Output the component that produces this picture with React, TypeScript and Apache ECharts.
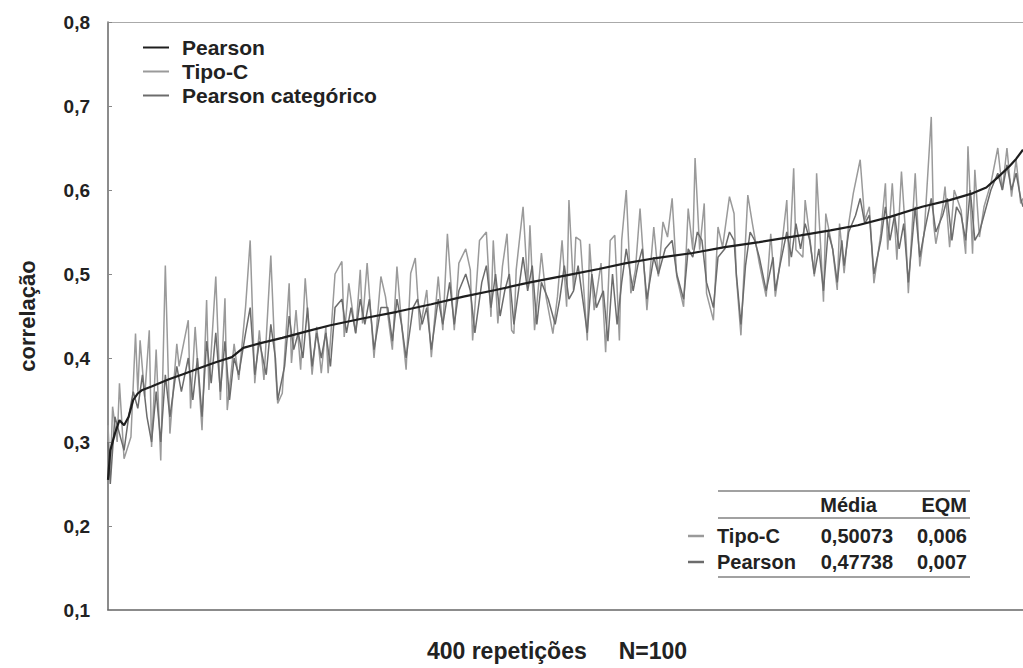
import React, { useEffect, useRef } from "react";
import * as echarts from "echarts";

const seriesNames = ["Pearson", "Tipo-C", "Pearson categórico"];
const yTicks = [0.1, 0.2, 0.3, 0.4, 0.5, 0.6, 0.7, 0.8];

const pearsonIdx = [1, 2, 4, 6, 8, 10, 12, 14, 16, 20, 27, 34, 41, 48, 55, 60, 68, 77, 88, 98, 112, 127, 142, 156, 170, 185, 202, 215, 227, 240, 256, 270, 285, 303, 316, 328, 342, 356, 368, 378, 384, 389, 394, 397, 400];
const pearsonVal = [0.255, 0.29, 0.31, 0.326, 0.32, 0.33, 0.35, 0.358, 0.362, 0.366, 0.374, 0.381, 0.388, 0.395, 0.401, 0.412, 0.418, 0.424, 0.432, 0.439, 0.447, 0.455, 0.464, 0.473, 0.481, 0.49, 0.499, 0.506, 0.513, 0.519, 0.525, 0.532, 0.538, 0.546, 0.552, 0.558, 0.568, 0.58, 0.588, 0.596, 0.603, 0.615, 0.628, 0.637, 0.648];

const tipoIdx = [1, 2, 3, 5, 6, 8, 11, 13, 14, 15, 17, 19, 20, 22, 24, 26, 28, 31, 32, 36, 37, 39, 42, 44, 45, 48, 50, 52, 53, 56, 58, 61, 63, 65, 67, 69, 72, 74, 75, 77, 80, 81, 83, 85, 87, 90, 92, 94, 96, 97, 100, 103, 104, 106, 109, 111, 112, 114, 117, 120, 122, 125, 127, 129, 131, 133, 135, 137, 140, 142, 145, 147, 149, 152, 154, 157, 159, 160, 163, 166, 168, 169, 171, 173, 175, 177, 178, 179, 182, 184, 185, 187, 190, 192, 195, 197, 199, 201, 202, 204, 205, 207, 210, 211, 213, 216, 218, 220, 222, 224, 225, 227, 229, 231, 233, 236, 239, 241, 243, 245, 247, 249, 252, 254, 256, 257, 259, 261, 262, 265, 267, 269, 272, 274, 275, 277, 279, 280, 282, 285, 288, 290, 292, 294, 297, 298, 300, 301, 304, 305, 307, 309, 310, 312, 313, 314, 317, 319, 320, 322, 324, 326, 329, 331, 333, 335, 338, 340, 341, 343, 345, 347, 349, 350, 353, 355, 357, 360, 361, 362, 365, 366, 368, 370, 373, 375, 376, 378, 379, 381, 383, 386, 389, 391, 393, 395, 397, 399, 400];
const tipoVal = [0.32, 0.26, 0.342, 0.3, 0.37, 0.28, 0.306, 0.429, 0.36, 0.421, 0.354, 0.433, 0.294, 0.41, 0.278, 0.51, 0.31, 0.417, 0.39, 0.445, 0.34, 0.437, 0.314, 0.469, 0.362, 0.497, 0.35, 0.471, 0.338, 0.417, 0.374, 0.461, 0.54, 0.37, 0.433, 0.374, 0.522, 0.39, 0.346, 0.358, 0.489, 0.394, 0.457, 0.386, 0.495, 0.38, 0.437, 0.382, 0.437, 0.382, 0.5, 0.515, 0.425, 0.489, 0.429, 0.505, 0.441, 0.513, 0.4, 0.497, 0.473, 0.41, 0.509, 0.441, 0.386, 0.501, 0.519, 0.433, 0.481, 0.401, 0.497, 0.433, 0.548, 0.433, 0.513, 0.53, 0.505, 0.421, 0.54, 0.55, 0.449, 0.54, 0.441, 0.509, 0.548, 0.433, 0.429, 0.505, 0.58, 0.485, 0.558, 0.433, 0.525, 0.473, 0.429, 0.473, 0.54, 0.461, 0.588, 0.481, 0.544, 0.54, 0.421, 0.536, 0.457, 0.513, 0.407, 0.54, 0.546, 0.421, 0.54, 0.6, 0.477, 0.505, 0.578, 0.457, 0.556, 0.497, 0.562, 0.544, 0.59, 0.497, 0.461, 0.578, 0.529, 0.638, 0.529, 0.584, 0.477, 0.445, 0.556, 0.532, 0.592, 0.572, 0.497, 0.427, 0.54, 0.594, 0.56, 0.513, 0.473, 0.548, 0.473, 0.513, 0.588, 0.509, 0.626, 0.529, 0.52, 0.588, 0.544, 0.497, 0.62, 0.521, 0.467, 0.572, 0.529, 0.481, 0.56, 0.501, 0.56, 0.596, 0.636, 0.564, 0.58, 0.489, 0.548, 0.608, 0.529, 0.608, 0.517, 0.622, 0.54, 0.477, 0.62, 0.509, 0.552, 0.687, 0.56, 0.536, 0.58, 0.604, 0.532, 0.6, 0.576, 0.524, 0.652, 0.524, 0.624, 0.544, 0.58, 0.608, 0.65, 0.6, 0.65, 0.592, 0.636, 0.584, 0.59];

const catIdx = [1, 2, 4, 6, 8, 10, 12, 14, 16, 18, 20, 22, 24, 26, 28, 31, 33, 36, 38, 40, 42, 44, 46, 48, 50, 52, 54, 56, 58, 61, 63, 65, 67, 70, 72, 74, 75, 78, 80, 82, 84, 86, 88, 90, 92, 94, 96, 98, 100, 103, 105, 107, 109, 111, 113, 115, 117, 120, 123, 125, 127, 129, 131, 134, 136, 138, 140, 142, 145, 147, 150, 152, 154, 157, 159, 161, 164, 166, 168, 170, 172, 174, 176, 178, 180, 182, 184, 186, 188, 190, 193, 196, 198, 200, 202, 204, 206, 208, 210, 212, 214, 217, 219, 221, 223, 225, 227, 230, 232, 234, 236, 239, 241, 244, 247, 249, 252, 254, 256, 258, 260, 262, 265, 267, 270, 272, 274, 275, 277, 279, 281, 283, 285, 288, 291, 292, 294, 297, 299, 301, 303, 305, 307, 309, 311, 313, 315, 317, 319, 321, 322, 324, 327, 329, 331, 333, 335, 338, 340, 342, 344, 346, 348, 350, 353, 355, 357, 360, 362, 365, 367, 369, 371, 373, 375, 377, 379, 381, 384, 386, 389, 391, 393, 395, 397, 399, 400];
const catVal = [0.3, 0.25, 0.33, 0.31, 0.29, 0.33, 0.36, 0.34, 0.38, 0.33, 0.3, 0.36, 0.3, 0.38, 0.33, 0.39, 0.36, 0.4, 0.35, 0.4, 0.33, 0.42, 0.37, 0.43, 0.36, 0.42, 0.35, 0.4, 0.38, 0.43, 0.46, 0.38, 0.42, 0.38, 0.44, 0.4, 0.35, 0.39, 0.45, 0.41, 0.43, 0.4, 0.46, 0.39, 0.43, 0.4, 0.43, 0.39, 0.46, 0.47, 0.43, 0.46, 0.43, 0.47, 0.44, 0.47, 0.41, 0.46, 0.46, 0.42, 0.47, 0.44, 0.4, 0.46, 0.47, 0.44, 0.46, 0.41, 0.47, 0.44, 0.49, 0.44, 0.48, 0.5, 0.48, 0.43, 0.49, 0.51, 0.46, 0.5, 0.45, 0.48, 0.5, 0.44, 0.48, 0.52, 0.48, 0.51, 0.44, 0.49, 0.47, 0.44, 0.47, 0.51, 0.47, 0.48, 0.51, 0.47, 0.43, 0.5, 0.46, 0.48, 0.42, 0.5, 0.44, 0.49, 0.53, 0.48, 0.51, 0.53, 0.47, 0.52, 0.5, 0.53, 0.54, 0.5, 0.47, 0.53, 0.52, 0.55, 0.54, 0.49, 0.46, 0.52, 0.53, 0.55, 0.54, 0.5, 0.44, 0.51, 0.55, 0.54, 0.52, 0.48, 0.52, 0.48, 0.51, 0.55, 0.52, 0.56, 0.53, 0.56, 0.54, 0.5, 0.53, 0.48, 0.55, 0.53, 0.49, 0.54, 0.51, 0.55, 0.57, 0.59, 0.56, 0.57, 0.5, 0.54, 0.58, 0.54, 0.57, 0.53, 0.56, 0.49, 0.58, 0.52, 0.55, 0.59, 0.55, 0.57, 0.59, 0.54, 0.58, 0.57, 0.54, 0.6, 0.54, 0.55, 0.58, 0.6, 0.62, 0.6, 0.63, 0.6, 0.62, 0.59, 0.58];

const tableRows = ["Tipo-C", "Pearson"];
const tableMedia = ["0,50073", "0,47738"];
const tableEQM = ["0,006", "0,007"];

const zip = (xs: number[], ys: number[]) => xs.map((x, i) => [x, ys[i]]);

const FONT = "'Liberation Sans', Arial, sans-serif";
const COL_PEARSON = "#1e1e1e";
const COL_TIPO = "#9a9a9a";
const COL_CAT = "#6c6c6c";

export default function App() {
  const ref = useRef<HTMLDivElement>(null);
  useEffect(() => {
    if (!ref.current) return;
    const chart = echarts.init(ref.current, null, { renderer: "svg" });
    const textStyle = { fontFamily: FONT, fontWeight: "bold", fontSize: 20, fill: "#222" };
    const rowY = [536, 562];
    const graphics: any[] = [
      { type: "line", shape: { x1: 718, y1: 491, x2: 970, y2: 491 }, style: { stroke: "#444", lineWidth: 1.2 } },
      { type: "line", shape: { x1: 718, y1: 518, x2: 970, y2: 518 }, style: { stroke: "#444", lineWidth: 1.2 } },
      { type: "line", shape: { x1: 718, y1: 577, x2: 970, y2: 577 }, style: { stroke: "#444", lineWidth: 1.2 } },
      { type: "text", style: { ...textStyle, text: "Média", x: 877, y: 505, textAlign: "right", textVerticalAlign: "middle" } },
      { type: "text", style: { ...textStyle, text: "EQM", x: 967, y: 505, textAlign: "right", textVerticalAlign: "middle" } },
      { type: "text", style: { ...textStyle, fontSize: 23, text: "400 repetições     N=100", x: 557, y: 651, textAlign: "center", textVerticalAlign: "middle" } },
    ];
    tableRows.forEach((name, k) => {
      const y = rowY[k];
      graphics.push({ type: "line", shape: { x1: 688, y1: y, x2: 704, y2: y }, style: { stroke: k === 0 ? COL_TIPO : COL_CAT, lineWidth: 2.5 } });
      graphics.push({ type: "text", style: { ...textStyle, text: name, x: 717, y, textAlign: "left", textVerticalAlign: "middle" } });
      graphics.push({ type: "text", style: { ...textStyle, text: tableMedia[k], x: 893, y, textAlign: "right", textVerticalAlign: "middle" } });
      graphics.push({ type: "text", style: { ...textStyle, text: tableEQM[k], x: 967, y, textAlign: "right", textVerticalAlign: "middle" } });
    });

    chart.setOption({
      animation: false,
      backgroundColor: "#fff",
      textStyle: { fontFamily: FONT },
      grid: { left: 108, right: 0, top: 22, bottom: 58 },
      legend: {
        orient: "vertical",
        left: 138,
        top: 32,
        itemWidth: 26,
        itemHeight: 2,
        itemGap: 3,
        icon: "rect",
        data: seriesNames,
        textStyle: { fontFamily: FONT, fontWeight: "bold", fontSize: 21, color: "#222", padding: [0, 0, 0, 8] },
      },
      xAxis: [
        {
          type: "value",
          min: 1,
          max: 400,
          axisLine: { show: true, lineStyle: { color: "#666", width: 1.5 } },
          axisTick: { show: false },
          axisLabel: { show: false },
          splitLine: { show: false },
        },
        {
          type: "value",
          position: "top",
          min: 1,
          max: 400,
          axisLine: { show: true, lineStyle: { color: "#aaa", width: 1 } },
          axisTick: { show: false },
          axisLabel: { show: false },
          splitLine: { show: false },
        },
      ],
      yAxis: {
        type: "value",
        min: yTicks[0],
        max: yTicks[yTicks.length - 1],
        interval: 0.1,
        name: "correlação",
        nameLocation: "middle",
        nameGap: 70,
        nameTextStyle: { fontFamily: FONT, fontWeight: "bold", fontSize: 22, color: "#222" },
        axisLine: { show: true, lineStyle: { color: "#666", width: 1.5 } },
        axisTick: { show: true, inside: true, length: 4, lineStyle: { color: "#888" } },
        axisLabel: {
          fontFamily: FONT,
          fontWeight: "bold",
          fontSize: 19,
          color: "#222",
          margin: 18,
          formatter: (v: number) => v.toFixed(1).replace(".", ","),
        },
        splitLine: { show: false },
      },
      series: [
        {
          name: seriesNames[0],
          type: "line",
          data: zip(pearsonIdx, pearsonVal),
          showSymbol: false,
          z: 5,
          color: COL_PEARSON,
          lineStyle: { color: COL_PEARSON, width: 2.2 },
        },
        {
          name: seriesNames[1],
          type: "line",
          data: zip(tipoIdx, tipoVal),
          showSymbol: false,
          z: 3,
          color: COL_TIPO,
          lineStyle: { color: COL_TIPO, width: 1.5 },
        },
        {
          name: seriesNames[2],
          type: "line",
          data: zip(catIdx, catVal),
          showSymbol: false,
          z: 4,
          color: COL_CAT,
          lineStyle: { color: COL_CAT, width: 1.5 },
        },
      ],
      graphic: graphics,
    });
    return () => chart.dispose();
  }, []);
  return <div ref={ref} style={{ position: "fixed", left: 0, top: 0, width: 1023, height: 668 }} />;
}
